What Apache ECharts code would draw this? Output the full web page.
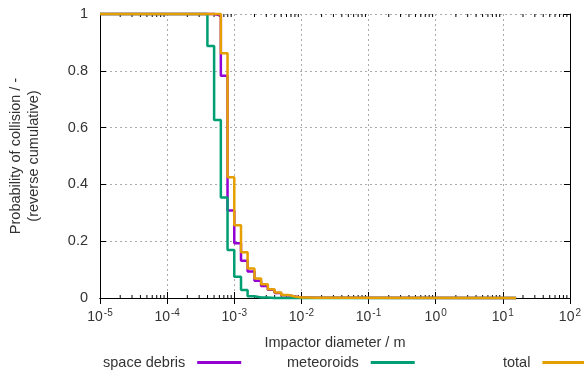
<!DOCTYPE html>
<html>
<head>
<meta charset="utf-8">
<script src="https://cdn.jsdelivr.net/npm/echarts@6/dist/echarts.min.js"></script>
<style>
html, body { margin: 0; padding: 0; background: #fff; }
#chart { width: 584px; height: 374px; }
</style>
</head>
<body>
<div id="chart"></div>
<script>
// bin edges (impactor diameter, m) and reverse cumulative probability per bin
var diam = [1e-5, 3.98e-4, 5.01e-4, 6.31e-4, 7.94e-4, 1.0e-3, 1.26e-3, 1.58e-3, 2.0e-3, 2.51e-3,
            3.16e-3, 3.98e-3, 5.01e-3, 6.31e-3, 7.94e-3, 1.0e-2, 1.26e-2, 1.58e-2, 2.0e-2, 2.51e-2,
            3.16e-2, 15.8];
var debris = [1, 1, 0.995, 0.783, 0.308, 0.193, 0.131, 0.093, 0.061, 0.042,
              0.029, 0.018, 0.010, 0.005, 0.002, 0.002, 0.001, 0.001, 0.001, 0.001,
              0, 0];
var meteor = [1, 0.887, 0.627, 0.354, 0.169, 0.075, 0.028, 0.006, 0.002, 0.002,
              0, 0, 0, 0, 0, 0, 0, 0, 0, 0,
              0, null];
var total = [1, 1, 1, 0.862, 0.425, 0.256, 0.161, 0.104, 0.069, 0.048,
             0.031, 0.019, 0.011, 0.005, 0.002, 0.002, 0.001, 0.001, 0.001, 0.001,
             0, 0];
var xExps = [-5, -4, -3, -2, -1, 0, 1, 2];
var yTicks = ['0', '0.2', '0.4', '0.6', '0.8', '1'];

var FONT = 'Liberation Sans';
var TXT = '#333';

function pairs(vals) {
    return diam.map(function(d, i) { return [d, vals[i]]; });
}

// minor tick positions 2..9 in every decade
var minor = [];
for (var e = xExps[0]; e < xExps[xExps.length - 1]; e++) {
    for (var m = 2; m <= 9; m++) minor.push([m * Math.pow(10, e)]);
}

var chart = echarts.init(document.getElementById('chart'));

var lineSeries = function(name, vals, color) {
    return {
        name: name,
        type: 'line',
        step: 'end',
        data: pairs(vals),
        showSymbol: false,
        clip: false,
        lineStyle: { color: color, width: 2.5 },
        itemStyle: { color: color },
        emphasis: { disabled: true },
        animation: false
    };
};

var legendBase = {
    orient: 'horizontal',
    align: 'right',
    icon: 'rect',
    itemWidth: 44,
    itemHeight: 3,
    top: 350,
    textStyle: { fontFamily: FONT, fontSize: 14.5, color: TXT, padding: [0, 7, 0, 0] }
};

chart.setOption({
    animation: false,
    grid: { left: 100, right: 13, top: 14, bottom: 76 },
    legend: [
        Object.assign({}, legendBase, { left: 98, data: ['space debris'] }),
        Object.assign({}, legendBase, { left: 282, data: ['meteoroids'] }),
        Object.assign({}, legendBase, { left: 498, data: ['total'] })
    ],
    xAxis: [{
        type: 'log',
        logBase: 10,
        min: 1e-5,
        max: 100,
        splitNumber: 7,
        name: 'Impactor diameter / m',
        nameLocation: 'middle',
        nameGap: 37,
        nameTextStyle: { fontFamily: FONT, fontSize: 14.5, color: TXT },
        axisLine: { lineStyle: { color: '#000', width: 1 } },
        axisTick: { inside: true, length: 6, lineStyle: { color: '#000' } },
        splitLine: { show: true, lineStyle: { color: '#aaa', type: [2, 3], width: 1 } },
        axisLabel: {
            margin: 10,
            showMinLabel: true,
            showMaxLabel: true,
            formatter: function(v) {
                var e = Math.round(Math.log10(v));
                return '{b|10}{s|' + e + '}';
            },
            rich: {
                b: { fontFamily: FONT, fontSize: 14, color: TXT, lineHeight: 18 },
                s: { fontFamily: FONT, fontSize: 10, color: TXT, verticalAlign: 'top', lineHeight: 18, padding: [0, 0, 6, 1] }
            }
        }
    }, {
        type: 'log',
        logBase: 10,
        min: 1e-5,
        max: 100,
        splitNumber: 7,
        position: 'top',
        axisLine: { lineStyle: { color: '#000', width: 1 } },
        axisTick: { inside: true, length: 6, lineStyle: { color: '#000' } },
        axisLabel: { show: false },
        splitLine: { show: false }
    }],
    yAxis: [{
        type: 'value',
        min: 0,
        max: 1,
        interval: 0.2,
        axisLine: { show: true, lineStyle: { color: '#000', width: 1 } },
        axisTick: { show: true, inside: true, length: 6, lineStyle: { color: '#000' } },
        splitLine: { show: true, lineStyle: { color: '#aaa', type: [2, 3], width: 1 } },
        axisLabel: {
            margin: 12,
            fontFamily: FONT, fontSize: 14.5, color: TXT,
            formatter: function(v) { return yTicks[Math.round(v * 5)]; }
        }
    }, {
        type: 'value',
        min: 0,
        max: 1,
        interval: 0.2,
        position: 'right',
        axisLine: { show: true, lineStyle: { color: '#000', width: 1 } },
        axisTick: { show: true, inside: true, length: 6, lineStyle: { color: '#000' } },
        axisLabel: { show: false },
        splitLine: { show: false }
    }],
    graphic: [{
        type: 'text',
        x: 16, y: 156,
        rotation: Math.PI / 2,
        style: { text: 'Probability of collision / -', fontFamily: FONT, fontSize: 14.5, fill: TXT,
                 textAlign: 'center', textVerticalAlign: 'middle' }
    }, {
        type: 'text',
        x: 34, y: 156,
        rotation: Math.PI / 2,
        style: { text: '(reverse cumulative)', fontFamily: FONT, fontSize: 14.5, fill: TXT,
                 textAlign: 'center', textVerticalAlign: 'middle' }
    }],
    series: [
        {
            type: 'custom',
            silent: true,
            clip: false,
            data: minor,
            encode: { x: 0 },
            renderItem: function(params, api) {
                var b = api.coord([api.value(0), 0]);
                var t = api.coord([api.value(0), 1]);
                return {
                    type: 'group',
                    children: [
                        { type: 'line', shape: { x1: b[0], y1: b[1], x2: b[0], y2: b[1] - 3 }, style: { stroke: '#000', lineWidth: 1 } },
                        { type: 'line', shape: { x1: t[0], y1: t[1], x2: t[0], y2: t[1] + 3 }, style: { stroke: '#000', lineWidth: 1 } }
                    ]
                };
            }
        },
        lineSeries('space debris', debris, '#9400d3'),
        lineSeries('meteoroids', meteor, '#009e73'),
        lineSeries('total', total, '#e69f00')
    ]
});
</script>
</body>
</html>
